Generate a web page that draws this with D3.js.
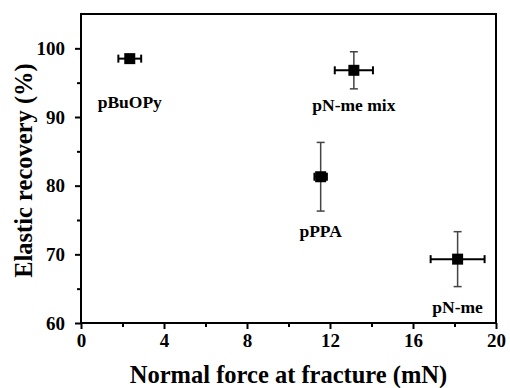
<!DOCTYPE html>
<html>
<head>
<meta charset="utf-8">
<script src="https://cdn.jsdelivr.net/npm/d3@7"></script>
<style>
  body { margin: 0; background: #fff; }
</style>
</head>
<body>
<div id="chart"></div>
<script>
const names = ['pBuOPy', 'pN-me mix', 'pPPA', 'pN-me'];
const force = [2.35, 13.15, 11.55, 18.15];
const forceErr = [0.55, 0.92, 0.3, 1.3];
const recovery = [98.5, 96.8, 81.3, 69.3];
const recoveryErr = [0.3, 2.7, 5.0, 4.0];
const xTicks = [0, 4, 8, 12, 16, 20];
const yTicks = [60, 70, 80, 90, 100];

const width = 510, height = 388;
const margin = { top: 14, right: 13, bottom: 65, left: 81 };
const serif = '"Liberation Serif", "Times New Roman", Times, "DejaVu Serif", serif';

const svg = d3.select('#chart').append('svg')
  .attr('width', width)
  .attr('height', height)
  .style('font-family', serif)
  .style('font-weight', 'bold');

const x = d3.scaleLinear().domain([0, 20]).range([margin.left, width - margin.right - 1]);
const y = d3.scaleLinear().domain([60, 105]).range([height - margin.bottom, margin.top]);

// frame
svg.append('rect')
  .attr('x', x(0)).attr('y', y(105))
  .attr('width', x(20) - x(0)).attr('height', y(60) - y(105))
  .attr('fill', 'none').attr('stroke', '#000').attr('stroke-width', 2);

// minor ticks
const xMinor = d3.range(2, 20, 4);
const yMinor = d3.range(65, 105, 10);

svg.append('g')
  .attr('transform', `translate(0,${y(60)})`)
  .call(d3.axisBottom(x).tickValues(xTicks).tickSize(6).tickPadding(5).tickFormat(d3.format('d')));
svg.append('g')
  .attr('transform', `translate(0,${y(60)})`)
  .call(d3.axisBottom(x).tickValues(xMinor).tickSize(4).tickFormat(''));

svg.append('g')
  .attr('transform', `translate(${x(0)},0)`)
  .call(d3.axisLeft(y).tickValues(yTicks).tickSize(6).tickPadding(10).tickFormat(d3.format('d')));
svg.append('g')
  .attr('transform', `translate(${x(0)},0)`)
  .call(d3.axisLeft(y).tickValues(yMinor).tickSize(4).tickFormat(''));

svg.selectAll('.domain').remove();
svg.selectAll('g').attr('font-family', null).attr('font-size', null);
svg.selectAll('.tick line').attr('stroke', '#000').attr('stroke-width', 2);
svg.selectAll('.tick text')
  .attr('fill', '#000')
  .style('font-family', serif)
  .style('font-weight', 'bold')
  .style('font-size', '19px');

// axis titles
svg.append('text')
  .attr('x', (x(0) + x(20)) / 2)
  .attr('y', 383)
  .attr('text-anchor', 'middle')
  .style('font-family', serif)
  .style('font-size', '24.5px')
  .text('Normal force at fracture (mN)');

svg.append('text')
  .attr('transform', `translate(32,${y(82.2)}) rotate(-90)`)
  .attr('text-anchor', 'middle')
  .style('font-family', serif)
  .style('font-size', '24.5px')
  .text('Elastic recovery (%)');

const data = names.map((n, i) => ({
  name: n, x: force[i], xe: forceErr[i], y: recovery[i], ye: recoveryErr[i]
}));

const pts = svg.selectAll('.pt').data(data).enter().append('g').attr('class', 'pt');

// vertical error bars (grey, thin)
pts.append('line')
  .attr('x1', d => x(d.x)).attr('x2', d => x(d.x))
  .attr('y1', d => y(d.y - d.ye)).attr('y2', d => y(d.y + d.ye))
  .attr('stroke', '#444').attr('stroke-width', 1.5);
pts.selectAll('.vcap').data(d => [[d.x, d.y - d.ye], [d.x, d.y + d.ye]])
  .enter().append('line')
  .attr('x1', d => x(d[0]) - 4).attr('x2', d => x(d[0]) + 4)
  .attr('y1', d => y(d[1])).attr('y2', d => y(d[1]))
  .attr('stroke', '#444').attr('stroke-width', 1.5);

// horizontal error bars (black)
pts.append('line')
  .attr('x1', d => x(d.x - d.xe)).attr('x2', d => x(d.x + d.xe))
  .attr('y1', d => y(d.y)).attr('y2', d => y(d.y))
  .attr('stroke', '#000').attr('stroke-width', 2);
pts.selectAll('.hcap').data(d => [[d.x - d.xe, d.y], [d.x + d.xe, d.y]])
  .enter().append('line')
  .attr('x1', d => x(d[0])).attr('x2', d => x(d[0]))
  .attr('y1', d => y(d[1]) - 4).attr('y2', d => y(d[1]) + 4)
  .attr('stroke', '#000').attr('stroke-width', 2);

// square markers
pts.append('rect')
  .attr('x', d => x(d.x) - 5.5).attr('y', d => y(d.y) - 5.5)
  .attr('width', 11).attr('height', 11)
  .attr('fill', '#000');

// point labels
const labelDy = [49, 41, 60, 54];
pts.append('text')
  .attr('x', d => x(d.x))
  .attr('y', (d, i) => y(d.y) + labelDy[i])
  .attr('text-anchor', 'middle')
  .style('font-family', serif)
  .style('font-size', '17.5px')
  .text(d => d.name);
</script>
</body>
</html>
